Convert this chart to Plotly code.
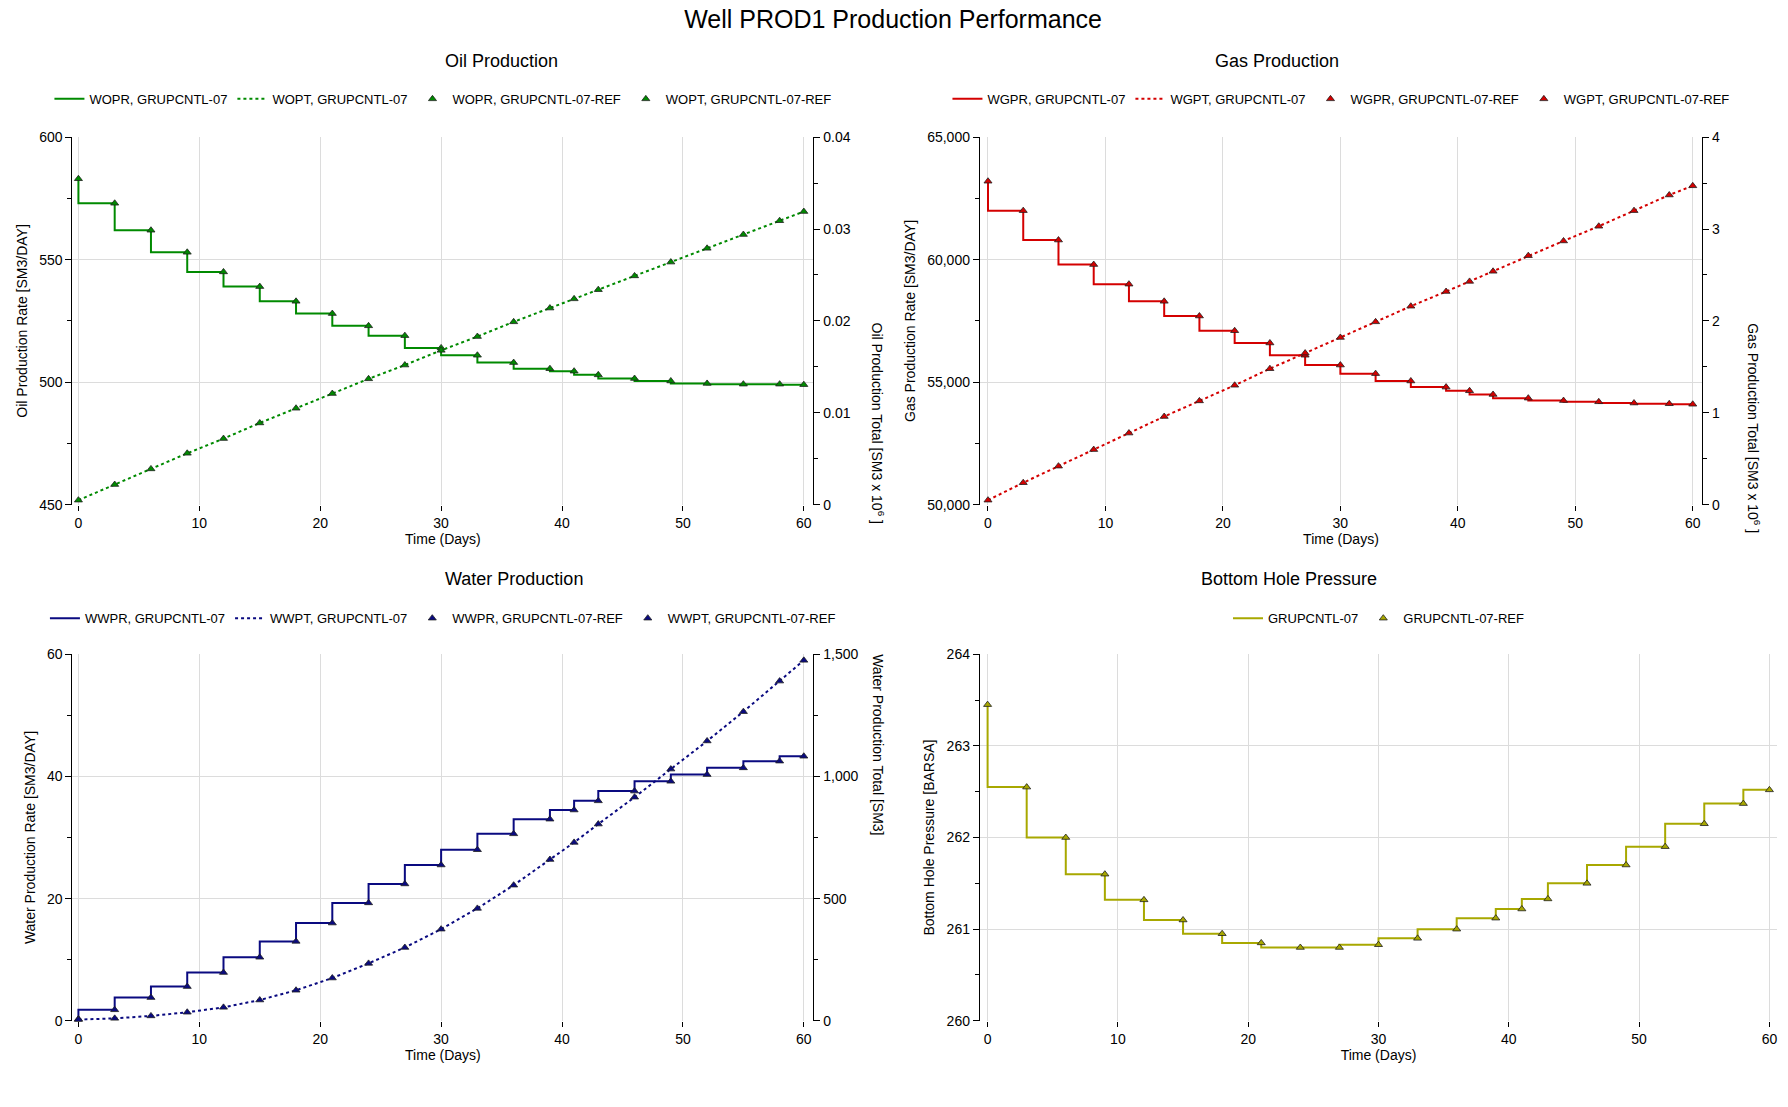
import plotly.graph_objects as go

# report times (days)
days = [0, 3, 6, 9, 12, 15, 18, 21, 24, 27, 30, 33, 36, 39, 41, 43, 46, 49, 52, 55, 58, 60]

wopr = [583, 573, 562, 553, 545, 539, 533, 528, 523, 519, 514, 511, 508, 505.5, 504.5, 503,
        501.5, 500.5, 499.5, 499.2, 499.2, 499]
wopt = [0.0005, 0.0022, 0.0039, 0.0056, 0.0072, 0.0089, 0.0105, 0.0121, 0.0137, 0.0152, 0.0168,
        0.0183, 0.0199, 0.0214, 0.0224, 0.0234, 0.0249, 0.0264, 0.0279, 0.0294, 0.0309, 0.0319]

wgpr = [63200, 62000, 60800, 59800, 59000, 58300, 57700, 57100, 56600, 56100, 55700, 55350,
        55050, 54800, 54650, 54500, 54350, 54250, 54200, 54150, 54120, 54100]
wgpt = [0.05, 0.24, 0.42, 0.60, 0.78, 0.96, 1.13, 1.30, 1.48, 1.65, 1.82, 1.99, 2.16, 2.32,
        2.43, 2.54, 2.71, 2.87, 3.03, 3.20, 3.37, 3.47]

wwpr = [0.3, 1.8, 3.8, 5.6, 7.9, 10.4, 13.0, 16.0, 19.3, 22.4, 25.5, 28.0, 30.6, 33.0, 34.5,
        36.0, 37.6, 39.2, 40.3, 41.4, 42.5, 43.3]
wwpt = [5, 10, 20, 35, 55, 85, 125, 175, 235, 300, 375, 460, 555, 660, 730, 805, 915, 1030,
        1145, 1265, 1390, 1475]

wbhp = [263.45, 262.55, 262.0, 261.6, 261.32, 261.1, 260.95, 260.85, 260.8, 260.8, 260.83,
        260.9, 261.0, 261.12, 261.22, 261.33, 261.5, 261.7, 261.9, 262.15, 262.37, 262.52]

GREEN, RED, NAVY, OLIVE = "#008a00", "#d40000", "#0a0a80", "#a8a800"
FONT = "Liberation Sans"

fig = go.Figure()


def add_pair(x, y, color, name, xa, ya, legend, dash="solid", shape="vh"):
    fig.add_trace(go.Scatter(x=x, y=y, mode="lines", name=name + ", GRUPCNTL-07" if name else "GRUPCNTL-07",
                             line=dict(color=color, width=2, dash=dash, shape=shape),
                             xaxis=xa, yaxis=ya, legend=legend))


def add_ref(x, y, color, name, xa, ya, legend):
    fig.add_trace(go.Scatter(x=x, y=y, mode="markers",
                             name=name + ", GRUPCNTL-07-REF" if name else "GRUPCNTL-07-REF",
                             marker=dict(symbol="triangle-up", size=7, color=color,
                                         line=dict(color="#202020", width=0.8)),
                             cliponaxis=False, xaxis=xa, yaxis=ya, legend=legend))


# Oil
add_pair(days, wopr, GREEN, "WOPR", "x", "y", "legend")
add_pair(days, wopt, GREEN, "WOPT", "x", "y2", "legend", dash="dot", shape="linear")
add_ref(days, wopr, GREEN, "WOPR", "x", "y", "legend")
add_ref(days, wopt, GREEN, "WOPT", "x", "y2", "legend")
# Gas
add_pair(days, wgpr, RED, "WGPR", "x2", "y3", "legend2")
add_pair(days, wgpt, RED, "WGPT", "x2", "y4", "legend2", dash="dot", shape="linear")
add_ref(days, wgpr, RED, "WGPR", "x2", "y3", "legend2")
add_ref(days, wgpt, RED, "WGPT", "x2", "y4", "legend2")
# Water
add_pair(days, wwpr, NAVY, "WWPR", "x3", "y5", "legend3")
add_pair(days, wwpt, NAVY, "WWPT", "x3", "y6", "legend3", dash="dot", shape="linear")
add_ref(days, wwpr, NAVY, "WWPR", "x3", "y5", "legend3")
add_ref(days, wwpt, NAVY, "WWPT", "x3", "y6", "legend3")
# BHP
add_pair(days, wbhp, OLIVE, "", "x4", "y7", "legend4")
add_ref(days, wbhp, OLIVE, "", "x4", "y7", "legend4")

tickf = dict(family=FONT, size=14, color="#000")
titlef = dict(family=FONT, size=14, color="#000")


def xaxis(domain, rng, anchor):
    return dict(domain=domain, range=rng, anchor=anchor, dtick=10, tick0=0,
                showgrid=True, gridcolor="#dcdcdc", zeroline=False,
                showline=False, ticks="outside", ticklen=5, tickcolor="#000",
                tickfont=tickf, title=dict(text="Time (Days)", font=titlef, standoff=2))


def yaxis(domain, rng, dtick, title, anchor, side="left", overlaying=None, grid=True, fmt=None):
    d = dict(domain=domain, range=rng, dtick=dtick, anchor=anchor, side=side,
             showgrid=grid, gridcolor="#dcdcdc", zeroline=False,
             showline=True, linecolor="#000", linewidth=1, ticks="outside", ticklen=6,
             tickcolor="#000", tickfont=tickf, minor=dict(ticks="outside", ticklen=4, dtick=dtick / 2,
                                                            tickcolor="#000"),
             title=dict(text=title, font=titlef, standoff=8))
    if overlaying:
        d["overlaying"] = overlaying
    if fmt:
        d["tickformat"] = fmt
    return d


top = [0.552, 0.889]
bot = [0.079, 0.415]
dl = [0.036, 0.4505]
dr = [0.5435, 0.9475]
dbhp = [0.5435, 0.9895]

fig.update_layout(
    width=1788, height=1107,
    margin=dict(l=0, r=0, t=0, b=0),
    paper_bgcolor="white", plot_bgcolor="white",
    font=dict(family=FONT, color="#000"),
    title=dict(text="Well PROD1 Production Performance", x=0.495, y=0.990, xanchor="center",
               yanchor="middle", font=dict(family=FONT, size=25)),
    xaxis=xaxis(dl, [-0.5, 60.8], "y"),
    xaxis2=xaxis(dr, [-0.7, 60.8], "y3"),
    xaxis3=xaxis(dl, [-0.5, 60.8], "y5"),
    xaxis4=xaxis(dbhp, [-0.6, 60.6], "y7"),
    yaxis=yaxis(top, [450, 600], 50, "Oil Production Rate [SM3/DAY]", "x"),
    yaxis2=yaxis(top, [0, 0.04], 0.01, "", "x", side="right", overlaying="y", grid=False),
    yaxis3=yaxis(top, [50000, 65000], 5000, "Gas Production Rate [SM3/DAY]", "x2", fmt=","),
    yaxis4=yaxis(top, [0, 4], 1, "", "x2", side="right", overlaying="y3", grid=False),
    yaxis5=yaxis(bot, [0, 60], 20, "Water Production Rate [SM3/DAY]", "x3"),
    yaxis6=yaxis(bot, [0, 1500], 500, "", "x3", side="right", overlaying="y5", grid=False, fmt=","),
    yaxis7=yaxis(bot, [260, 264], 1, "Bottom Hole Pressure [BARSA]", "x4"),
)

leg = dict(orientation="h", xanchor="center", yanchor="middle", font=dict(family=FONT, size=13),
           bgcolor="rgba(0,0,0,0)", itemwidth=30, tracegroupgap=0)
fig.update_layout(
    legend=dict(leg, x=sum(dl) / 2, y=0.924),
    legend2=dict(leg, x=sum(dr) / 2, y=0.924),
    legend3=dict(leg, x=sum(dl) / 2, y=0.448),
    legend4=dict(leg, x=sum(dbhp) / 2, y=0.448),
)

for text, x, y in [("Oil Production", sum(dl) / 2, 0.970), ("Gas Production", sum(dr) / 2, 0.970),
                   ("Water Production", sum(dl) / 2, 0.484), ("Bottom Hole Pressure", sum(dbhp) / 2, 0.484)]:
    fig.add_annotation(text=text, x=x, y=y, xref="paper", yref="paper", showarrow=False,
                       font=dict(family=FONT, size=18))

# right-hand axis titles read top to bottom
for text, x, y in [("Oil Production Total [SM3 x 10<sup>6</sup> ]", dl[1] + 0.036, sum(top) / 2),
                   ("Gas Production Total [SM3 x 10<sup>6</sup> ]", dr[1] + 0.035, sum(top) / 2),
                   ("Water Production Total [SM3]", dl[1] + 0.036, sum(bot) / 2)]:
    fig.add_annotation(text=text, x=x, y=y, xref="paper", yref="paper", showarrow=False,
                       textangle=90, font=titlef)

fig.write_html("out.html")
